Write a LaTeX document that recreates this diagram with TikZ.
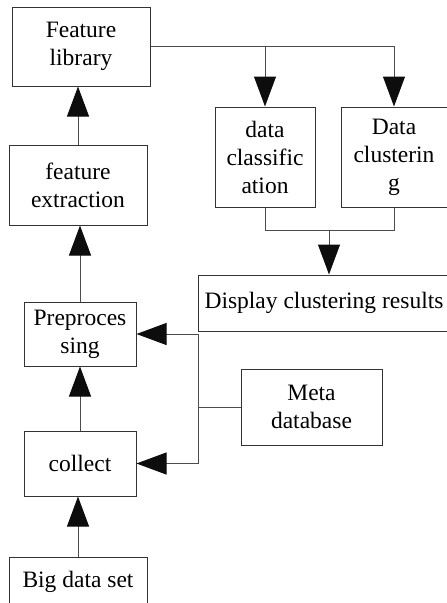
\documentclass[tikz,border=0pt]{standalone}
\usepackage{fontspec}
\setmainfont{Liberation Serif}
\usetikzlibrary{arrows.meta}
\begin{document}
\begin{tikzpicture}[x=1pt,y=-1pt,
  box/.style={draw=black!80,line width=1pt,align=center,inner sep=0pt,
    font=\fontsize{23.5}{28}\selectfont},
  conn/.style={draw=black!70,line width=1pt},
  arr/.style={conn,-{Triangle[length=30pt,width=22pt,black!95]}}]
\useasboundingbox (0,0) rectangle (447,603);
\node[box,minimum width=138pt,minimum height=79pt] (lib) at (81,46.5) {Feature\\library};
\node[box,minimum width=138pt,minimum height=80pt] (ext) at (78,185) {feature\\extraction};
\node[box,minimum width=112pt,minimum height=64pt] (pre) at (80,334) {Preproces\\sing};
\node[box,minimum width=112pt,minimum height=65pt] (col) at (80,463.5) {collect};
\node[box,minimum width=138pt,minimum height=50pt] (big) at (78,582) {Big data set};
\node[box,minimum width=141pt,minimum height=76pt] (meta) at (311.5,407) {Meta\\database};
\node[box,minimum width=252pt,minimum height=56pt] (disp) at (324,303) {Display clustering results};
\node[box,minimum width=100pt,minimum height=100pt] (cls) at (265,157) {data\\classific\\ation};
\node[box,minimum width=106pt,minimum height=100pt] (clu) at (394,157) {Data\\clusterin\\g};
\coordinate (j) at (198,407);
\coordinate (m) at (329,230);
\draw[arr] (ext.north) -- (ext.north |- lib.south);
\draw[arr] (pre.north) -- (pre.north |- ext.south);
\draw[arr] (col.north) -- (col.north |- pre.south);
\draw[arr] (big.north) -- (big.north |- col.south);
\draw[conn] (meta.west) -- (j);
\draw[arr] (j) |- (pre.east);
\draw[arr] (j) |- (col.east);
\draw[arr] (lib.east) -| (clu.north);
\draw[arr] (lib.east -| cls.north) -- (cls.north);
\draw[conn] (cls.south) -- (cls.south |- m) -- (clu.south |- m) -- (clu.south);
\draw[arr] (m) -- (m |- disp.north);
\end{tikzpicture}
\end{document}
